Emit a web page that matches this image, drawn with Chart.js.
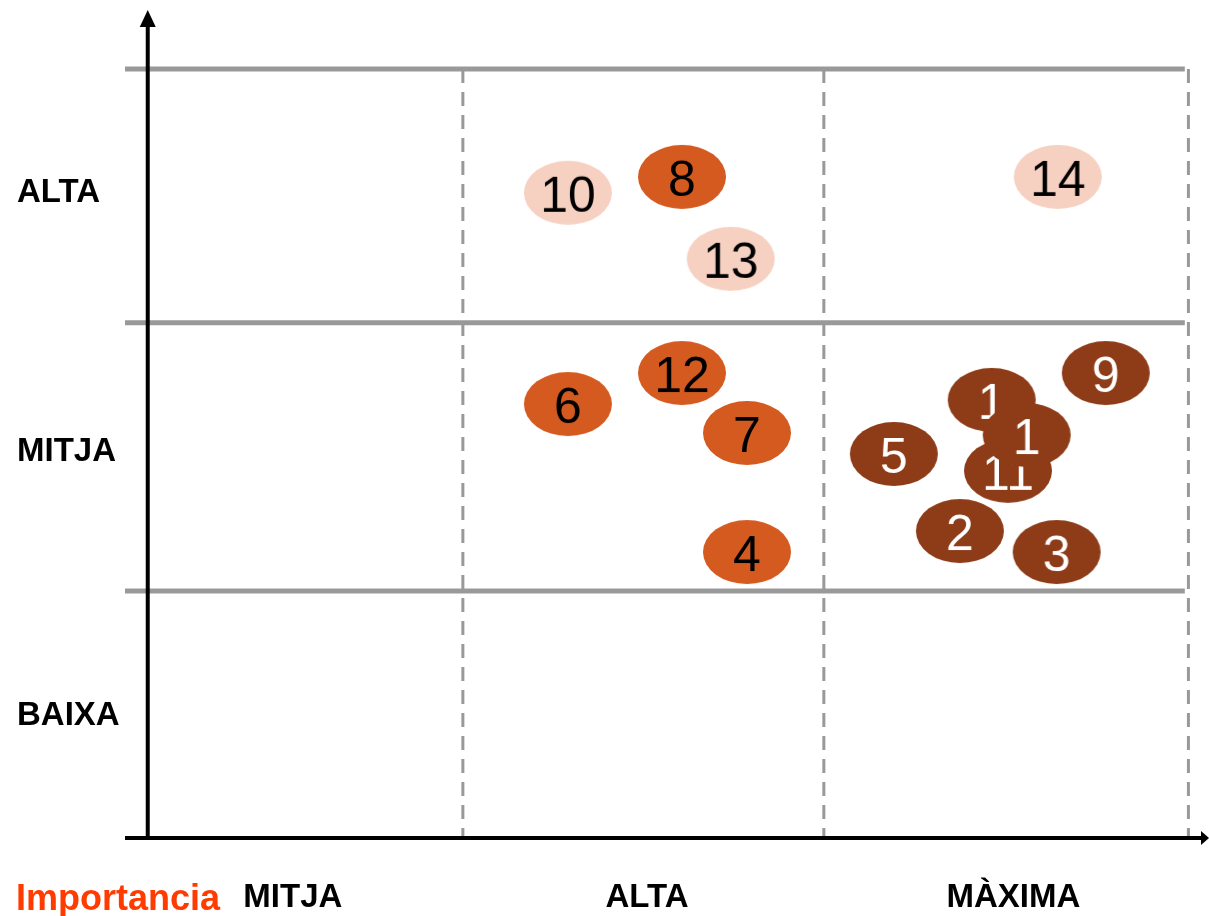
<!DOCTYPE html>
<html>
<head>
<meta charset="utf-8">
<script src="https://cdn.jsdelivr.net/npm/chart.js@4.4.1/dist/chart.umd.min.js"></script>
<style>
  html, body { margin: 0; padding: 0; background: #fff; }
  #wrap { width: 1209px; height: 916px; }
</style>
</head>
<body>
<div id="wrap"><canvas id="matrix" width="1209" height="916"></canvas></div>
<script>
// rows (vertical axis) and columns (horizontal axis)
const rowLabels = ['ALTA', 'MITJA', 'BAIXA'];
const rowPos = [2.53, 1.52, 0.49];
const colLabels = ['MITJA', 'ALTA', 'MÀXIMA'];
const colPos = [0.529, 1.51, 2.525];
const axisTitle = 'Importancia';

// grid lines between rows / columns
const rowLines = [0.965, 2.012, 3.004];
const colLines = [1, 2, 3.01];

// items, grouped by colour
const lightIds = ['10', '13', '14'];
const lightX = [1.291, 1.742, 2.648];
const lightY = [2.52, 2.262, 2.582];

const midIds = ['8', '12', '6', '7', '4'];
const midX = [1.607, 1.607, 1.291, 1.787, 1.787];
const midY = [2.582, 1.816, 1.695, 1.582, 1.117];

const darkIds = ['9', '1', '11', '1', '5', '2', '3'];
const darkX = [2.781, 2.465, 2.51, 2.562, 2.194, 2.377, 2.645];
const darkY = [1.816, 1.711, 1.434, 1.574, 1.5, 1.199, 1.117];

const FONT = '"Liberation Sans", Arial, sans-serif';

// ellipse marker with the number inside
function marker(text, fill, ink) {
  const c = document.createElement('canvas');
  c.width = 90; c.height = 66;
  const g = c.getContext('2d');
  g.fillStyle = fill;
  g.beginPath();
  g.ellipse(45, 33, 44, 32, 0, 0, Math.PI * 2);
  g.fill();
  g.fillStyle = ink;
  g.font = '50px ' + FONT;
  g.textAlign = 'center';
  g.textBaseline = 'alphabetic';
  g.fillText(text, 45, 33 + 19);
  return c;
}

function makeSet(ids, xs, ys, fill, ink) {
  const imgs = ids.map(t => marker(t, fill, ink));
  return {
    data: xs.map((x, i) => ({ x: x, y: ys[i] })),
    pointStyle: ctx => imgs[ctx.dataIndex],
    pointRadius: 40,
    clip: false,
  };
}

const gridPlugin = {
  id: 'grid',
  beforeDatasetsDraw(chart) {
    const { ctx, scales: { x, y } } = chart;
    ctx.save();
    // solid row lines
    ctx.strokeStyle = '#999999';
    ctx.lineWidth = 5;
    rowLines.forEach(v => {
      const py = y.getPixelForValue(v);
      ctx.beginPath();
      ctx.moveTo(x.left, py);
      ctx.lineTo(x.getPixelForValue(3.0), py);
      ctx.stroke();
    });
    // dashed column lines
    ctx.lineWidth = 3;
    ctx.setLineDash([14, 9]);
    colLines.forEach(v => {
      const px = x.getPixelForValue(v);
      ctx.beginPath();
      ctx.moveTo(px, y.getPixelForValue(rowLines[2]));
      ctx.lineTo(px, y.getPixelForValue(0));
      ctx.stroke();
    });
    ctx.setLineDash([]);

    // black axes with arrows
    const ax = x.getPixelForValue(0.127);
    const ay = y.getPixelForValue(0);
    ctx.strokeStyle = '#000';
    ctx.fillStyle = '#000';
    ctx.lineWidth = 4;
    ctx.beginPath();
    ctx.moveTo(ax, ay + 2);
    ctx.lineTo(ax, y.top + 14);
    ctx.stroke();
    ctx.beginPath();
    ctx.moveTo(ax, y.top);
    ctx.lineTo(ax - 8, y.top + 17);
    ctx.lineTo(ax + 8, y.top + 17);
    ctx.closePath();
    ctx.fill();
    ctx.beginPath();
    ctx.moveTo(x.left, ay);
    ctx.lineTo(x.right - 6, ay);
    ctx.stroke();
    ctx.beginPath();
    ctx.moveTo(x.right, ay);
    ctx.lineTo(x.right - 8, ay - 7);
    ctx.lineTo(x.right - 8, ay + 7);
    ctx.closePath();
    ctx.fill();

    // category labels
    ctx.font = 'bold 33px ' + FONT;
    ctx.textBaseline = 'alphabetic';
    ctx.textAlign = 'left';
    rowLabels.forEach((t, i) => ctx.fillText(t, 17, y.getPixelForValue(rowPos[i]) + 12));
    ctx.textAlign = 'center';
    colLabels.forEach((t, i) => ctx.fillText(t, x.getPixelForValue(colPos[i]), 907));
    ctx.font = 'bold 36px ' + FONT;
    ctx.textAlign = 'left';
    ctx.fillStyle = '#ff3b00';
    ctx.fillText(axisTitle, 16, 910);
    ctx.restore();
  }
};

new Chart(document.getElementById('matrix'), {
  type: 'scatter',
  data: {
    datasets: [
      makeSet(darkIds, darkX, darkY, '#8e3c18', '#ffffff'),
      makeSet(midIds, midX, midY, '#d45a20', '#000000'),
      makeSet(lightIds, lightX, lightY, '#f6d1c1', '#000000'),
    ]
  },
  options: {
    responsive: false,
    animation: false,
    events: [],
    layout: { autoPadding: false, padding: { left: 125, right: 0, top: 10, bottom: 78 } },
    plugins: { legend: { display: false }, tooltip: { enabled: false } },
    scales: {
      x: { type: 'linear', display: false, min: 0.064, max: 3.067 },
      y: { type: 'linear', display: false, min: 0, max: 3.234 }
    }
  },
  plugins: [gridPlugin]
});
</script>
</body>
</html>
